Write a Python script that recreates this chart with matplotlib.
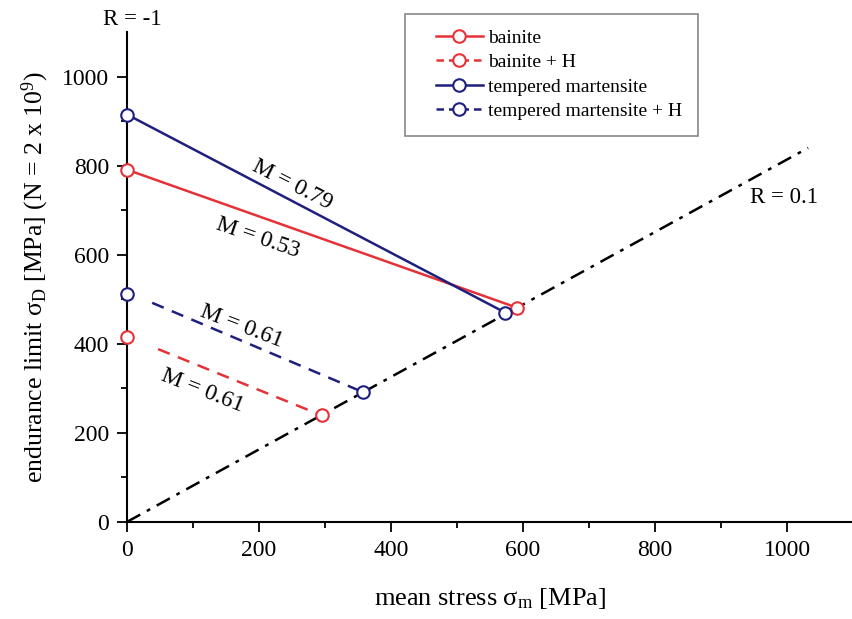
import matplotlib
matplotlib.use("Agg")
from matplotlib import pyplot as plt
from matplotlib.lines import Line2D
from matplotlib.legend_handler import HandlerLine2D

plt.rcParams['font.family'] = ['Liberation Serif', 'DejaVu Serif']
plt.rcParams['mathtext.fontset'] = 'custom'
plt.rcParams['mathtext.rm'] = 'Liberation Serif'
plt.rcParams['mathtext.it'] = 'Liberation Serif:italic'

red = '#e53238'
blue = '#1f1f7e'

# endpoints (mean stress, endurance limit)
bainite_x = [0, 591]
bainite_y = [791, 481]
martensite_x = [0, 573]
martensite_y = [915, 470]

# hydrogen charged: open markers + dashed segment that starts a bit off the axis
bainite_h_pts_x = [0, 295]
bainite_h_pts_y = [416, 239]
bainite_h_line_x = [47, 295]
bainite_h_line_y = [388, 239]
martensite_h_pts_x = [0, 358]
martensite_h_pts_y = [512, 291]
martensite_h_line_x = [38, 358]
martensite_h_line_y = [492, 291]

# R = 0.1 line
r_line_x = [0, 1032]
r_line_y = [0, 840]

fig = plt.figure(figsize=(8.53, 6.19), dpi=100)
ax = fig.add_axes([0.149, 0.157, 0.851, 0.791])

ax.plot(r_line_x, r_line_y, color='black', lw=1.8, ls=(0, (6, 3, 1.5, 3)))

mk = dict(marker='o', ms=9, mfc='white', mew=1.5, clip_on=False, zorder=5)
ax.plot(bainite_x, bainite_y, color=red, lw=1.8, **mk)
ax.plot(martensite_x, martensite_y, color=blue, lw=1.8, **mk)
ax.plot(bainite_h_line_x, bainite_h_line_y, color=red, lw=1.8, ls=(0, (5, 3.5)))
ax.plot(martensite_h_line_x, martensite_h_line_y, color=blue, lw=1.8, ls=(0, (5, 3.5)))
ax.plot(bainite_h_pts_x, bainite_h_pts_y, color=red, ls='none', **mk)
ax.plot(martensite_h_pts_x, martensite_h_pts_y, color=blue, ls='none', **mk)

ax.set_xlim(0, 1100)
ax.set_ylim(0, 1100)
ax.set_xticks(range(0, 1001, 200))
ax.set_xticks(range(100, 1001, 200), minor=True)
ax.set_yticks(range(0, 1001, 200))
ax.set_yticks(range(100, 1001, 200), minor=True)
ax.spines['top'].set_visible(False)
ax.spines['right'].set_visible(False)
for s in ['left', 'bottom']:
    ax.spines[s].set_linewidth(1.5)
ax.tick_params(which='major', length=7, width=1.3, labelsize=17, pad=6)
ax.tick_params(which='minor', length=4, width=1.3)

ax.set_xlabel('mean stress σ$_\\mathrm{m}$ [MPa]', fontsize=19, labelpad=18)
ax.set_ylabel('endurance limit σ$_\\mathrm{D}$ [MPa] (N = 2 x 10$^\\mathrm{9}$)', fontsize=18.5, labelpad=8)

ax.text(250, 757, 'M = 0.79', fontsize=17, rotation=-27, ha='center', va='center')
ax.text(198, 638, 'M = 0.53', fontsize=17, rotation=-19, ha='center', va='center')
ax.text(173, 440, 'M = 0.61', fontsize=17, rotation=-21, ha='center', va='center')
ax.text(114, 294, 'M = 0.61', fontsize=17, rotation=-21.5, ha='center', va='center')
ax.text(995, 728, 'R = 0.1', fontsize=16.5, ha='center', va='center')
ax.text(8, 1128, 'R = -1', fontsize=16.5, ha='center', va='center', clip_on=False)

handles = [
    Line2D([], [], color=red, lw=1.8, marker='o', ms=9, mfc='white', mew=1.5),
    Line2D([], [], color=red, lw=1.8, ls=(0, (3, 2)), marker='o', ms=9, mfc='white', mew=1.5),
    Line2D([], [], color=blue, lw=1.8, marker='o', ms=9, mfc='white', mew=1.5),
    Line2D([], [], color=blue, lw=1.8, ls=(0, (3, 2)), marker='o', ms=9, mfc='white', mew=1.5),
]
labels = ['bainite', 'bainite + H', 'tempered martensite', 'tempered martensite + H']
leg = ax.legend(handles, labels, loc='upper left', bbox_to_anchor=(0.383, 1.038),
                fontsize=14, fancybox=False, edgecolor='#888888', framealpha=1,
                handlelength=3.18, handletextpad=0.3, labelspacing=0.35, borderpad=0.8,
                borderaxespad=0, handler_map={Line2D: HandlerLine2D(xpad=0.78)})
leg.get_frame().set_linewidth(1.2)

fig.savefig('out.png', dpi=100)
